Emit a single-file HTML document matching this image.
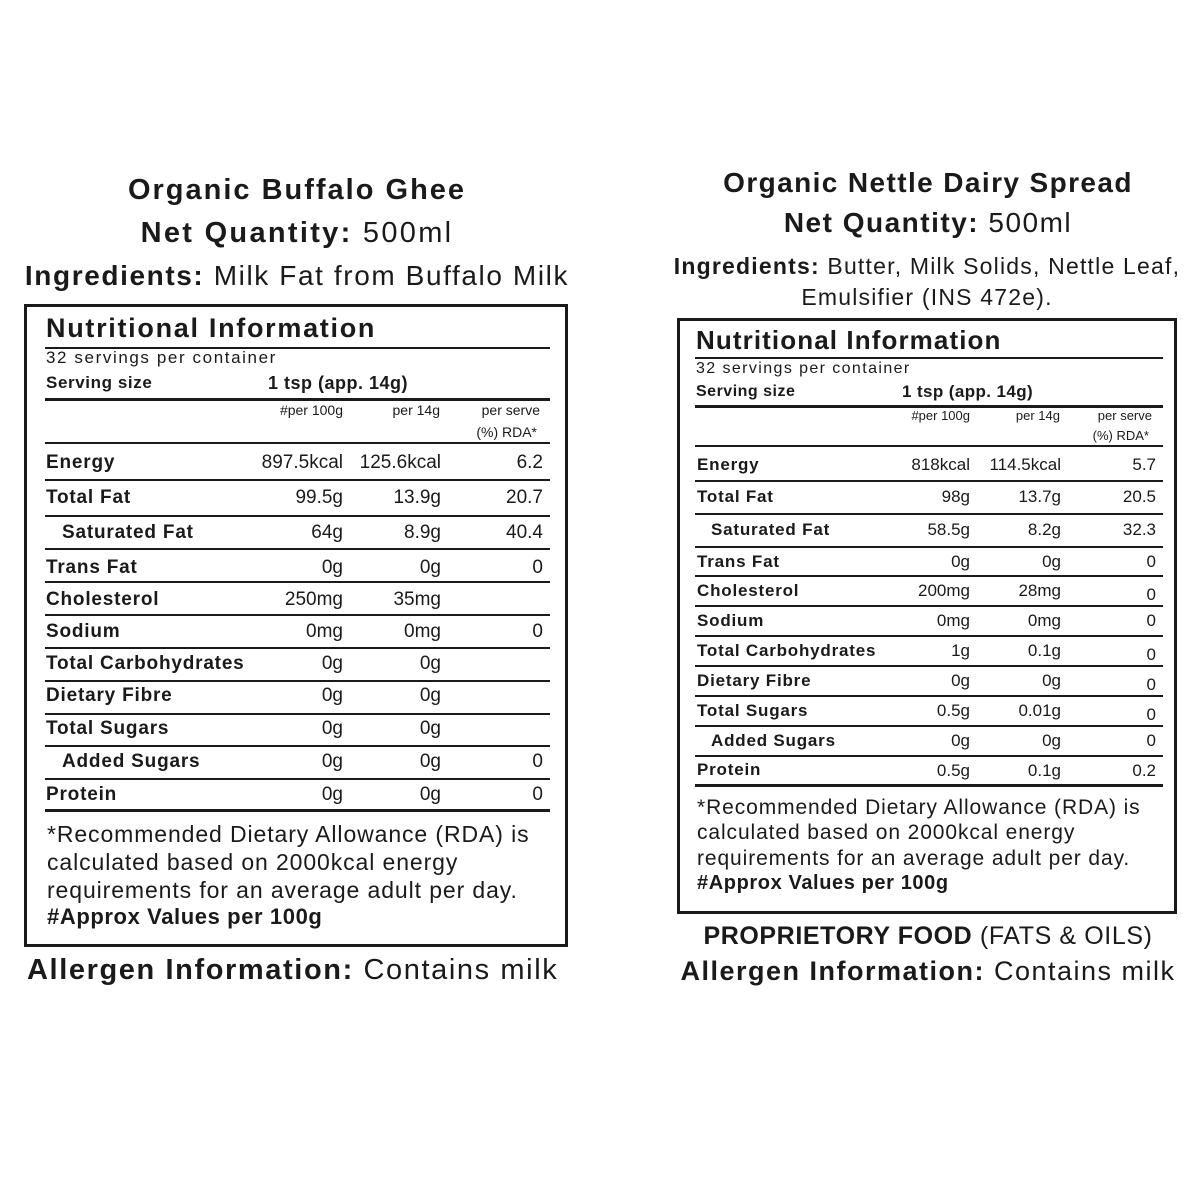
<!DOCTYPE html>
<html><head><meta charset="utf-8"><style>
html,body{margin:0;padding:0;background:#fff;}
body{width:1200px;height:1200px;position:relative;overflow:hidden;font-family:"Liberation Sans",sans-serif;color:#1a1a1a;}
div{position:absolute;white-space:nowrap;}
.b{font-weight:bold;}
.c{text-align:center;}
.r{text-align:right;}
.l{background:#1a1a1a;height:2px;}
.L{font-size:19px;line-height:22px;height:22px;}
.R{font-size:17px;line-height:20px;height:20px;}
.L.b,.R.b{letter-spacing:0.8px;}
</style></head><body>

<!-- LEFT headings -->
<div class="b c" style="left:0;width:594px;top:173px;font-size:29px;line-height:34px;letter-spacing:2px;">Organic Buffalo Ghee</div>
<div class="c" style="left:0;width:594px;top:216px;font-size:29px;line-height:34px;letter-spacing:2.3px;"><b>Net Quantity:</b> 500ml</div>
<div class="c" style="left:0;width:594px;top:259px;font-size:28px;line-height:34px;letter-spacing:1.6px;"><b>Ingredients:</b> Milk Fat from Buffalo Milk</div>

<!-- LEFT box -->
<div style="left:24px;top:304px;width:538px;height:637px;border:3px solid #1a1a1a;"></div>
<div class="b" style="left:46px;top:312px;font-size:27px;line-height:32px;letter-spacing:1.7px;">Nutritional Information</div>
<div class="l" style="left:45px;top:347px;width:505px;"></div>
<div style="left:46px;top:348px;font-size:17px;line-height:20px;letter-spacing:1.6px;">32 servings per container</div>
<div class="b" style="left:46px;top:373px;font-size:17px;line-height:20px;letter-spacing:0.6px;">Serving size</div>
<div class="b" style="left:268px;top:372px;font-size:18px;line-height:22px;letter-spacing:0.5px;">1 tsp (app. 14g)</div>
<div class="l" style="left:45px;top:398px;width:505px;height:3px;"></div>
<div class="r" style="left:200px;width:143px;top:401px;font-size:14px;line-height:18px;">#per 100g</div>
<div class="r" style="left:340px;width:100px;top:401px;font-size:14px;line-height:18px;">per 14g</div>
<div class="r" style="left:440px;width:100px;top:401px;font-size:14px;line-height:18px;">per serve</div>
<div class="r" style="left:437px;width:100px;top:423px;font-size:14px;line-height:18px;">(%) RDA*</div>
<div class="l" style="left:45px;top:442px;width:505px;"></div>

<div class="L b" style="left:46px;top:452px;">Energy</div><div class="L r" style="left:200px;width:143px;top:452px;">897.5kcal</div><div class="L r" style="left:340px;width:101px;top:452px;">125.6kcal</div><div class="L r" style="left:440px;width:103px;top:452px;">6.2</div>
<div class="l" style="left:45px;top:479px;width:505px;"></div>
<div class="L b" style="left:46px;top:487px;">Total Fat</div><div class="L r" style="left:200px;width:143px;top:487px;">99.5g</div><div class="L r" style="left:340px;width:101px;top:487px;">13.9g</div><div class="L r" style="left:440px;width:103px;top:487px;">20.7</div>
<div class="l" style="left:45px;top:515px;width:505px;"></div>
<div class="L b" style="left:62px;top:522px;">Saturated Fat</div><div class="L r" style="left:200px;width:143px;top:522px;">64g</div><div class="L r" style="left:340px;width:101px;top:522px;">8.9g</div><div class="L r" style="left:440px;width:103px;top:522px;">40.4</div>
<div class="l" style="left:45px;top:548px;width:505px;"></div>
<div class="L b" style="left:46px;top:557px;">Trans Fat</div><div class="L r" style="left:200px;width:143px;top:557px;">0g</div><div class="L r" style="left:340px;width:101px;top:557px;">0g</div><div class="L r" style="left:440px;width:103px;top:557px;">0</div>
<div class="l" style="left:45px;top:581px;width:505px;"></div>
<div class="L b" style="left:46px;top:589px;">Cholesterol</div><div class="L r" style="left:200px;width:143px;top:589px;">250mg</div><div class="L r" style="left:340px;width:101px;top:589px;">35mg</div>
<div class="l" style="left:45px;top:614px;width:505px;"></div>
<div class="L b" style="left:46px;top:621px;">Sodium</div><div class="L r" style="left:200px;width:143px;top:621px;">0mg</div><div class="L r" style="left:340px;width:101px;top:621px;">0mg</div><div class="L r" style="left:440px;width:103px;top:621px;">0</div>
<div class="l" style="left:45px;top:647px;width:505px;"></div>
<div class="L b" style="left:46px;top:653px;">Total Carbohydrates</div><div class="L r" style="left:200px;width:143px;top:653px;">0g</div><div class="L r" style="left:340px;width:101px;top:653px;">0g</div>
<div class="l" style="left:45px;top:680px;width:505px;"></div>
<div class="L b" style="left:46px;top:685px;">Dietary Fibre</div><div class="L r" style="left:200px;width:143px;top:685px;">0g</div><div class="L r" style="left:340px;width:101px;top:685px;">0g</div>
<div class="l" style="left:45px;top:713px;width:505px;"></div>
<div class="L b" style="left:46px;top:718px;">Total Sugars</div><div class="L r" style="left:200px;width:143px;top:718px;">0g</div><div class="L r" style="left:340px;width:101px;top:718px;">0g</div>
<div class="l" style="left:45px;top:745px;width:505px;"></div>
<div class="L b" style="left:62px;top:751px;">Added Sugars</div><div class="L r" style="left:200px;width:143px;top:751px;">0g</div><div class="L r" style="left:340px;width:101px;top:751px;">0g</div><div class="L r" style="left:440px;width:103px;top:751px;">0</div>
<div class="l" style="left:45px;top:778px;width:505px;"></div>
<div class="L b" style="left:46px;top:784px;">Protein</div><div class="L r" style="left:200px;width:143px;top:784px;">0g</div><div class="L r" style="left:340px;width:101px;top:784px;">0g</div><div class="L r" style="left:440px;width:103px;top:784px;">0</div>
<div class="l" style="left:45px;top:809px;width:505px;height:3px;"></div>

<div style="left:47px;top:820px;font-size:23px;line-height:28px;letter-spacing:0.9px;">*Recommended Dietary Allowance (RDA) is</div>
<div style="left:47px;top:848px;font-size:23px;line-height:28px;letter-spacing:0.9px;">calculated based on 2000kcal energy</div>
<div style="left:47px;top:876px;font-size:23px;line-height:28px;letter-spacing:0.9px;">requirements for an average adult per day.</div>
<div class="b" style="left:47px;top:903px;font-size:22px;line-height:28px;letter-spacing:0.6px;">#Approx Values per 100g</div>

<div style="left:27px;top:953px;font-size:29px;line-height:34px;letter-spacing:1.6px;"><b>Allergen Information:</b> Contains milk</div>

<!-- RIGHT headings -->
<div class="b c" style="left:628px;width:600px;top:166px;font-size:28px;line-height:33px;letter-spacing:1.4px;">Organic Nettle Dairy Spread</div>
<div class="c" style="left:628px;width:600px;top:206px;font-size:28px;line-height:33px;letter-spacing:1.5px;"><b>Net Quantity:</b> 500ml</div>
<div class="c" style="left:627px;width:600px;top:252px;font-size:23px;line-height:28px;letter-spacing:1.2px;"><b>Ingredients:</b> Butter, Milk Solids, Nettle Leaf,</div>
<div class="c" style="left:627px;width:600px;top:283px;font-size:23px;line-height:28px;letter-spacing:1.2px;">Emulsifier (INS 472e).</div>

<!-- RIGHT box -->
<div style="left:677px;top:318px;width:494px;height:590px;border:3px solid #1a1a1a;"></div>
<div class="b" style="left:696px;top:325px;font-size:26px;line-height:31px;letter-spacing:1.1px;">Nutritional Information</div>
<div class="l" style="left:695px;top:357px;width:468px;"></div>
<div style="left:696px;top:359px;font-size:16px;line-height:19px;letter-spacing:1.4px;">32 servings per container</div>
<div class="b" style="left:696px;top:382px;font-size:16px;line-height:19px;letter-spacing:0.5px;">Serving size</div>
<div class="b" style="left:902px;top:381px;font-size:17px;line-height:21px;letter-spacing:0.4px;">1 tsp (app. 14g)</div>
<div class="l" style="left:695px;top:405px;width:468px;height:3px;"></div>
<div class="r" style="left:850px;width:120px;top:407px;font-size:13px;line-height:17px;">#per 100g</div>
<div class="r" style="left:960px;width:100px;top:407px;font-size:13px;line-height:17px;">per 14g</div>
<div class="r" style="left:1050px;width:102px;top:407px;font-size:13px;line-height:17px;">per serve</div>
<div class="r" style="left:1050px;width:99px;top:427px;font-size:13px;line-height:17px;">(%) RDA*</div>
<div class="l" style="left:695px;top:445px;width:468px;"></div>

<div class="R b" style="left:697px;top:455px;">Energy</div><div class="R r" style="left:850px;width:120px;top:455px;">818kcal</div><div class="R r" style="left:960px;width:101px;top:455px;">114.5kcal</div><div class="R r" style="left:1050px;width:106px;top:455px;">5.7</div>
<div class="l" style="left:695px;top:480px;width:468px;"></div>
<div class="R b" style="left:697px;top:487px;">Total Fat</div><div class="R r" style="left:850px;width:120px;top:487px;">98g</div><div class="R r" style="left:960px;width:101px;top:487px;">13.7g</div><div class="R r" style="left:1050px;width:106px;top:487px;">20.5</div>
<div class="l" style="left:695px;top:513px;width:468px;"></div>
<div class="R b" style="left:711px;top:520px;">Saturated Fat</div><div class="R r" style="left:850px;width:120px;top:520px;">58.5g</div><div class="R r" style="left:960px;width:101px;top:520px;">8.2g</div><div class="R r" style="left:1050px;width:106px;top:520px;">32.3</div>
<div class="l" style="left:695px;top:546px;width:468px;"></div>
<div class="R b" style="left:697px;top:552px;">Trans Fat</div><div class="R r" style="left:850px;width:120px;top:552px;">0g</div><div class="R r" style="left:960px;width:101px;top:552px;">0g</div><div class="R r" style="left:1050px;width:106px;top:552px;">0</div>
<div class="l" style="left:695px;top:575px;width:468px;"></div>
<div class="R b" style="left:697px;top:581px;">Cholesterol</div><div class="R r" style="left:850px;width:120px;top:581px;">200mg</div><div class="R r" style="left:960px;width:101px;top:581px;">28mg</div><div class="R r" style="left:1050px;width:106px;top:585px;">0</div>
<div class="l" style="left:695px;top:605px;width:468px;"></div>
<div class="R b" style="left:697px;top:611px;">Sodium</div><div class="R r" style="left:850px;width:120px;top:611px;">0mg</div><div class="R r" style="left:960px;width:101px;top:611px;">0mg</div><div class="R r" style="left:1050px;width:106px;top:611px;">0</div>
<div class="l" style="left:695px;top:635px;width:468px;"></div>
<div class="R b" style="left:697px;top:641px;">Total Carbohydrates</div><div class="R r" style="left:850px;width:120px;top:641px;">1g</div><div class="R r" style="left:960px;width:101px;top:641px;">0.1g</div><div class="R r" style="left:1050px;width:106px;top:645px;">0</div>
<div class="l" style="left:695px;top:665px;width:468px;"></div>
<div class="R b" style="left:697px;top:671px;">Dietary Fibre</div><div class="R r" style="left:850px;width:120px;top:671px;">0g</div><div class="R r" style="left:960px;width:101px;top:671px;">0g</div><div class="R r" style="left:1050px;width:106px;top:675px;">0</div>
<div class="l" style="left:695px;top:695px;width:468px;"></div>
<div class="R b" style="left:697px;top:701px;">Total Sugars</div><div class="R r" style="left:850px;width:120px;top:701px;">0.5g</div><div class="R r" style="left:960px;width:101px;top:701px;">0.01g</div><div class="R r" style="left:1050px;width:106px;top:705px;">0</div>
<div class="l" style="left:695px;top:725px;width:468px;"></div>
<div class="R b" style="left:711px;top:731px;">Added Sugars</div><div class="R r" style="left:850px;width:120px;top:731px;">0g</div><div class="R r" style="left:960px;width:101px;top:731px;">0g</div><div class="R r" style="left:1050px;width:106px;top:731px;">0</div>
<div class="l" style="left:695px;top:755px;width:468px;"></div>
<div class="R b" style="left:697px;top:760px;">Protein</div><div class="R r" style="left:850px;width:120px;top:761px;">0.5g</div><div class="R r" style="left:960px;width:101px;top:761px;">0.1g</div><div class="R r" style="left:1050px;width:106px;top:761px;">0.2</div>
<div class="l" style="left:695px;top:784px;width:468px;height:3px;"></div>

<div style="left:697px;top:795px;font-size:21px;line-height:25px;letter-spacing:0.9px;">*Recommended Dietary Allowance (RDA) is</div>
<div style="left:697px;top:820px;font-size:21px;line-height:25px;letter-spacing:0.9px;">calculated based on 2000kcal energy</div>
<div style="left:697px;top:846px;font-size:21px;line-height:25px;letter-spacing:0.9px;">requirements for an average adult per day.</div>
<div class="b" style="left:697px;top:871px;font-size:20px;line-height:25px;letter-spacing:0.6px;">#Approx Values per 100g</div>

<div class="c" style="left:628px;width:600px;top:921px;font-size:25px;line-height:31px;letter-spacing:0.6px;"><b>PROPRIETORY FOOD</b> (FATS &amp; OILS)</div>
<div class="c" style="left:628px;width:600px;top:955px;font-size:27px;line-height:32px;letter-spacing:1.5px;"><b>Allergen Information:</b> Contains milk</div>

</body></html>
